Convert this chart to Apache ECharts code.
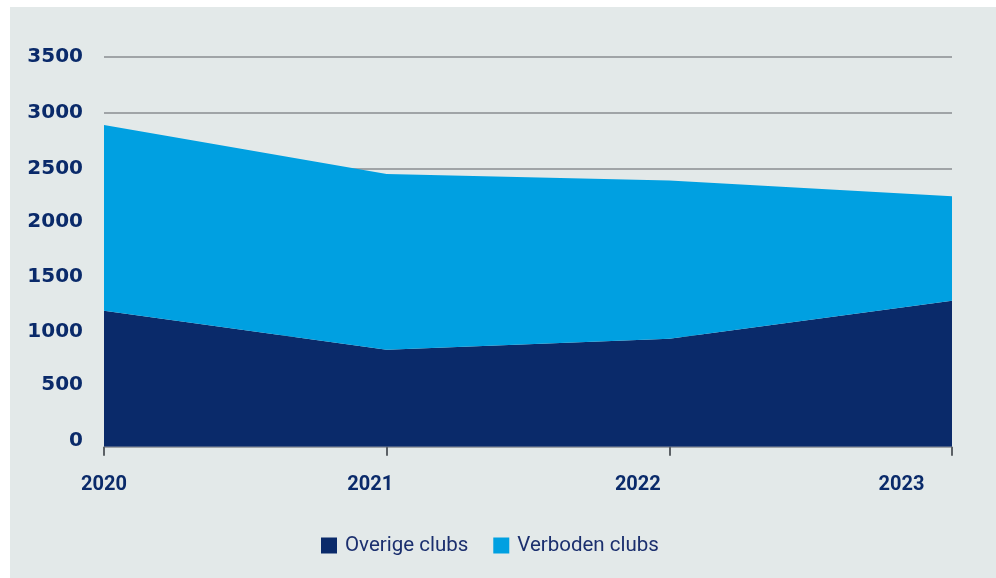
<!DOCTYPE html>
<html>
<head>
<meta charset="utf-8">
<script src="https://cdn.jsdelivr.net/npm/echarts@6/dist/echarts.min.js"></script>
<style>
html,body{margin:0;padding:0;background:#ffffff;width:996px;height:578px;overflow:hidden;}
#chart{position:absolute;left:10px;top:7px;width:986px;height:571px;}
</style>
</head>
<body>
<div id="chart"></div>
<script>
const years = ['2020', '2021', '2022', '2023'];
const overigeClubs = [1220, 870, 970, 1310];
const verbodenClubs = [1670, 1580, 1420, 940];
const yTicks = [0, 500, 1000, 1500, 2000, 2500, 3000, 3500];

const labelShift = [0, 33, 63, 101];
const yLabelLift = [6, 6, 4, 3, 2, 0, 0, 0];
const navy = '#0a2a6a';
const chart = echarts.init(document.getElementById('chart'), null, {renderer: 'canvas'});
const rich = {};
labelShift.forEach((s, i) => {
  rich['l' + i] = {fontFamily: 'Roboto', fontWeight: 'bold', fontSize: 20, color: navy, padding: [0, s, 0, 0]};
});
const yRich = {};
yLabelLift.forEach((s, i) => {
  yRich['y' + i] = {fontFamily: 'DejaVu Sans', fontWeight: 'bold', fontSize: 20, color: navy, padding: [0, 0, 2 * s, 0]};
});
chart.setOption({
  backgroundColor: '#e3e9e9',
  animation: false,
  grid: {left: 94, right: 44, top: 50, bottom: 131.3, containLabel: false},
  legend: {
    left: 311, top: 528, padding: 0,
    icon: 'rect', itemWidth: 16, itemHeight: 16, itemGap: 25,
    textStyle: {fontFamily: 'Roboto', fontSize: 20.5, color: '#1b2f6e', padding: [0, 0, 0, 3]},
    data: ['Overige clubs', 'Verboden clubs']
  },
  xAxis: {
    type: 'category',
    data: years,
    boundaryGap: false,
    axisLine: {show: false},
    axisTick: {show: true, length: 9, lineStyle: {color: '#5c6166', width: 2}},
    axisLabel: {
      margin: 28,
      formatter: (v, i) => '{l' + i + '|' + v + '}',
      rich: rich
    },
    splitLine: {show: false}
  },
  yAxis: {
    type: 'value',
    min: yTicks[0], max: yTicks[yTicks.length - 1], interval: 500,
    axisLine: {show: false},
    axisTick: {show: false},
    axisLabel: {margin: 21,
      formatter: v => '{y' + yTicks.indexOf(v) + '|' + v + '}',
      rich: yRich},
    splitLine: {lineStyle: {color: '#8a8d90', width: 1.5}}
  },
  series: [
    {
      name: 'Overige clubs', type: 'line', stack: 'total', data: overigeClubs,
      symbol: 'none', lineStyle: {width: 0}, itemStyle: {color: navy},
      areaStyle: {color: navy, opacity: 1}
    },
    {
      name: 'Verboden clubs', type: 'line', stack: 'total', data: verbodenClubs,
      symbol: 'none', lineStyle: {width: 0}, itemStyle: {color: '#00a0e1'},
      areaStyle: {color: '#00a0e1', opacity: 1}
    }
  ]
});
</script>
</body>
</html>
